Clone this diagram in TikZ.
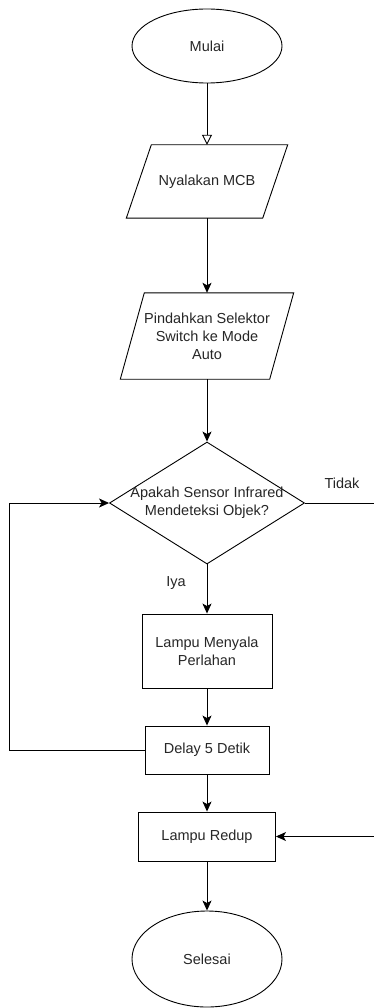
\documentclass[tikz,border=0pt]{standalone}
\usepackage{fontspec}
\setmainfont{Liberation Sans}
\usetikzlibrary{shapes.geometric,arrows.meta}
\begin{document}
\begin{tikzpicture}[x=1pt,y=-1pt,
  txt/.style={inner sep=0pt, align=center, text=black!85,
              font=\fontsize{14.5}{18}\selectfont},
  base/.style={txt, draw, line width=0.9pt},
  term/.style={base, ellipse, minimum width=150pt},
  proc/.style={base, rectangle},
  iobody/.style={txt, rectangle},
  decision/.style={draw, line width=0.9pt, diamond, inner sep=0pt,
                   minimum width=195pt, minimum height=122pt},
  flow/.style={line width=0.9pt, -{Stealth[length=10pt,width=9pt,inset=2.5pt]}},
  flowopen/.style={line width=0.9pt, -{Triangle[open,length=10pt,width=10pt,fill=white]}},
  outline/.style={line width=0.9pt, line join=miter}
]
\useasboundingbox (0,0) rectangle (374,1008);
\clip (0,0) rectangle (374,1008);

% start
\node[term, minimum height=74pt] (start) at (207,46) {Mulai};

% input/output steps (parallelograms drawn around text bodies)
\node[iobody, minimum width=136pt, minimum height=73pt] (mcb) at (207,181.5) {Nyalakan MCB};
\draw[outline] ([xshift=12.5pt]mcb.north west) -- ([xshift=12.5pt]mcb.north east)
  -- ([xshift=-12.5pt]mcb.south east) -- ([xshift=-12.5pt]mcb.south west) -- cycle;

\node[iobody, minimum width=149pt, minimum height=86pt] (sel) at (207,336)
  {Pindahkan Selektor\\Switch ke Mode\\Auto};
\draw[outline] ([xshift=12pt]sel.north west) -- ([xshift=12pt]sel.north east)
  -- ([xshift=-12pt]sel.south east) -- ([xshift=-12pt]sel.south west) -- cycle;

% decision
\node[decision] (dec) at (207,503) {};
\node[txt] (dectext) at (dec.center) {Apakah Sensor Infrared\\Mendeteksi Objek?};

% processes
\node[proc, minimum width=130pt, minimum height=74pt] (on) at (207,651) {Lampu Menyala\\Perlahan};
\node[proc, minimum width=124pt, minimum height=48pt] (delay) at (207,750) {Delay 5 Detik};
\node[proc, minimum width=137pt, minimum height=49pt] (dim) at (207,836.5) {Lampu Redup};

% end
\node[term, minimum height=96pt] (stop) at (207,959) {Selesai};

% branch labels
\node[txt] (tidak) at (342,483) {Tidak};
\node[txt] (iya) at (176,583) {Iya};

% loop corners
\coordinate (loopL) at (9,750);
\coordinate (loopR) at (380,503);

% connectors
\draw[flowopen] (start.south) -- (mcb.north);
\draw[flow] (mcb.south) -- (sel.north);
\draw[flow] (sel.south) -- (dec.north);
\draw[flow] (dec.south) -- (on.north);
\draw[flow] (on.south) -- (delay.north);
\draw[flow] (delay.south) -- (dim.north);
\draw[flow] (dim.south) -- (stop.north);
\draw[flow] (delay.west) -- (loopL) |- (dec.west);
\draw[flow] (dec.east) -- (loopR) |- (dim.east);
\end{tikzpicture}
\end{document}
